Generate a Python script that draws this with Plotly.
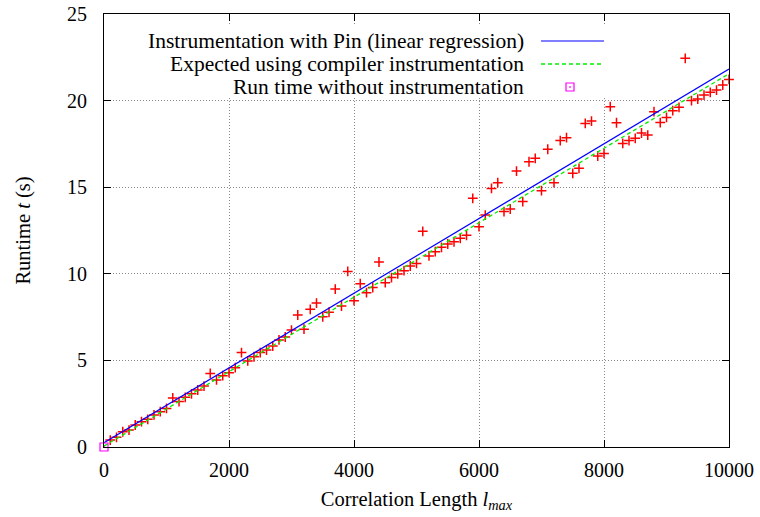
import plotly.graph_objects as go

# ---- data ----
corr_length = list(range(100, 10001, 100))
runtime_pin = [
    0.40, 0.56, 0.88, 0.98, 1.27, 1.46, 1.60, 1.85, 2.04, 2.23,
    2.83, 2.62, 2.87, 3.07, 3.29, 3.52, 4.25, 3.87, 4.12, 4.29,
    4.58, 5.45, 4.97, 5.21, 5.45, 5.60, 5.83, 6.18, 6.35, 6.75,
    7.62, 6.80, 7.95, 8.31, 7.52, 7.78, 9.12, 8.14, 10.14, 8.45,
    9.43, 8.91, 9.21, 10.68, 9.49, 9.78, 9.99, 10.18, 10.45, 10.60,
    12.45, 11.03, 11.28, 11.53, 11.72, 11.85, 12.05, 12.22, 14.36, 12.72,
    13.39, 14.93, 15.26, 13.59, 13.74, 15.93, 14.17, 16.47, 16.67, 14.80,
    17.19, 15.26, 17.69, 17.86, 15.80, 16.09, 18.68, 18.82, 16.80, 16.95,
    19.65, 18.72, 17.53, 17.69, 17.82, 18.13, 18.01, 19.36, 18.73, 19.03,
    19.42, 19.61, 22.44, 20.00, 20.09, 20.32, 20.48, 20.61, 20.90, 21.22,
]
line_x = [0, 10000]
pin_regression = [0.25, 21.82]
compiler_expected = [0.05, 21.55]
no_instr_x = [0]
no_instr_y = [0]

x_ticks = [0, 2000, 4000, 6000, 8000, 10000]
y_ticks = [0, 5, 10, 15, 20, 25]
legend_labels = [
    "Instrumentation with Pin (linear regression)",
    "Expected using compiler instrumentation",
    "Run time without instrumentation",
]

FONT = "'Liberation Serif', 'DejaVu Serif', 'Times New Roman', serif"
BLUE = "#0000ff"
GREEN = "#00ee00"
RED = "#ff0000"
MAGENTA = "#ff00ff"

fig = go.Figure()
fig.add_trace(go.Scatter(x=corr_length, y=runtime_pin, mode="markers",
                         marker=dict(symbol="cross-thin", size=7,
                                     line=dict(color=RED, width=1.5)),
                         showlegend=False, cliponaxis=False))
fig.add_trace(go.Scatter(x=line_x, y=pin_regression, mode="lines",
                         line=dict(color=BLUE, width=1.2), showlegend=False))
fig.add_trace(go.Scatter(x=line_x, y=compiler_expected, mode="lines",
                         line=dict(color=GREEN, width=1.3, dash="4px,3px"),
                         showlegend=False))
fig.add_trace(go.Scatter(x=no_instr_x, y=no_instr_y, mode="markers",
                         marker=dict(symbol="square-open-dot", size=8,
                                     line=dict(color=MAGENTA, width=1.2),
                                     color=MAGENTA),
                         showlegend=False, cliponaxis=False))

# ---- custom legend (text, then sample to its right) ----
def px_x(p):
    return (p - 104) / 625.0

def px_y(p):
    return (447 - p) / 433.0

shapes = [
    dict(type="rect", xref="paper", yref="paper",
         x0=px_x(140), x1=px_x(612), y0=px_y(98), y1=px_y(26),
         fillcolor="white", line=dict(width=0), layer="above"),
]
rows = [41, 64, 87]
annotations = []
for lab, r in zip(legend_labels, rows):
    annotations.append(dict(text=lab, xref="paper", yref="paper",
                            x=px_x(526), y=px_y(r), xanchor="right",
                            yanchor="middle", showarrow=False,
                            font=dict(family=FONT, size=21.5, color="black")))
shapes.append(dict(type="line", xref="paper", yref="paper",
                   x0=px_x(541), x1=px_x(604), y0=px_y(rows[0]), y1=px_y(rows[0]),
                   line=dict(color=BLUE, width=1.2), layer="above"))
shapes.append(dict(type="line", xref="paper", yref="paper",
                   x0=px_x(541), x1=px_x(604), y0=px_y(rows[1]), y1=px_y(rows[1]),
                   line=dict(color=GREEN, width=1.3, dash="4px,3px"), layer="above"))
shapes.append(dict(type="rect", xref="paper", yref="paper",
                   x0=px_x(566), x1=px_x(574), y0=px_y(rows[2] + 4), y1=px_y(rows[2] - 4),
                   line=dict(color=MAGENTA, width=1.2), layer="above"))
shapes.append(dict(type="rect", xref="paper", yref="paper",
                   x0=px_x(569.5), x1=px_x(570.5), y0=px_y(rows[2] + 0.5), y1=px_y(rows[2] - 0.5),
                   line=dict(color=MAGENTA, width=0.5), fillcolor=MAGENTA, layer="above"))

axis_common = dict(showline=True, linecolor="black", linewidth=1,
                   mirror="allticks", ticks="inside", ticklen=7,
                   tickcolor="black", tickwidth=1, automargin=False,
                   showgrid=True, gridcolor="#8a8a8a", griddash="1px,2px",
                   gridwidth=1, zeroline=False,
                   tickfont=dict(family=FONT, size=20, color="black"))

fig.update_layout(
    width=760, height=517,
    margin=dict(l=104, r=31, t=14, b=70),
    plot_bgcolor="white", paper_bgcolor="white",
    font=dict(family=FONT, size=20, color="black"),
    shapes=shapes, annotations=annotations,
    xaxis=dict(range=[0, 10000], tickvals=x_ticks,
               ticktext=[str(v) for v in x_ticks],
               ticklabelstandoff=5,
               title=dict(text="Correlation Length <i>l</i><sub><i>max</i></sub>",
                          font=dict(family=FONT, size=20.5), standoff=11),
               **axis_common),
    yaxis=dict(range=[0, 25], tickvals=y_ticks,
               ticktext=[str(v) for v in y_ticks],
               ticklabelstandoff=12,
               title=dict(text="Runtime <i>t</i> (s)",
                          font=dict(family=FONT, size=20.5), standoff=30),
               **axis_common),
)

fig.write_html("out.html",
               config={"displayModeBar": False},
               post_script="document.body.style.margin='0px';document.body.style.padding='0px';")
